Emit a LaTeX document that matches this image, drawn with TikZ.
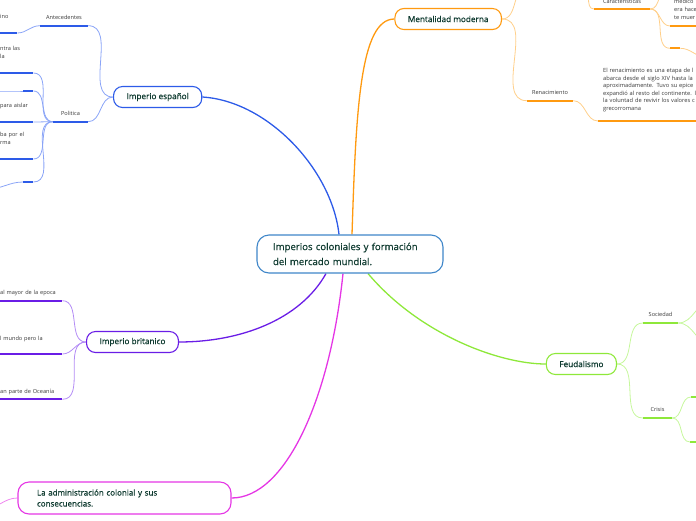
\documentclass[tikz,border=0pt]{standalone}
\usepackage{fontspec}
\setmainfont{Open Sans}
\newfontfamily\topicfont{Open Sans}[FakeBold=0.6]
\usepackage{tikz}
\usetikzlibrary{backgrounds}

\definecolor{espblue}{HTML}{2D5BE8}
\definecolor{esplight}{HTML}{8AA4F7}
\definecolor{mentorange}{HTML}{FF9A10}
\definecolor{mentlight}{HTML}{FFCF8A}
\definecolor{feudgreen}{HTML}{8EE83A}
\definecolor{feudlight}{HTML}{C6F79C}
\definecolor{britpurple}{HTML}{6A1DE6}
\definecolor{britlight}{HTML}{B38CF5}
\definecolor{admmag}{HTML}{E536E5}
\definecolor{centblue}{HTML}{3F86C9}
\definecolor{topictext}{HTML}{0F3B30}
\definecolor{leaftext}{HTML}{383838}

\begin{document}
\begin{tikzpicture}[
  x=1pt, y=-1pt,
  topic/.style={draw=#1, line width=1.1pt, rounded corners=9pt, fill=white,
    inner xsep=13pt, minimum height=21pt, font=\topicfont\fontsize{8.2}{10}\selectfont, text=topictext},
  ul/.style={draw=#1, line width=1.8pt},
  sub/.style={inner xsep=4pt, inner ysep=1.5pt, text depth=4.8pt,
    font=\fontsize{5.6}{8}\selectfont, text=leaftext,
    append after command={(\tikzlastnode.south west) edge[ul=#1] (\tikzlastnode.south east)}},
  cut/.style={sub=#1, anchor=south west, inner xsep=5pt, align=left},
  link/.style={draw=#1, line width=0.8pt},
  main/.style={draw=#1, line width=1.3pt},
  lft/.style={out=180, in=0},
  rgt/.style={out=0, in=180}
]
  \useasboundingbox (0,0) rectangle (696,520);

  % centre
  \node[draw=centblue, line width=1.1pt, rounded corners=12pt, fill=white,
        minimum width=186pt, minimum height=38pt, inner xsep=16pt, text width=154pt,
        align=left, font=\topicfont\fontsize{9.6}{15}\selectfont, text=topictext] (cent) at (350,254)
        {Imperios coloniales y formación\\del mercado mundial.};

  % Imperio espanol (upper left)
  \node[topic=espblue, anchor=west] (espa) at (113,97) {Imperio español};
  \node[sub=espblue, minimum width=48pt, anchor=south] (ante) at (64,25.7) {Antecedentes};
  \node[sub=espblue, minimum width=35pt, anchor=south] (poli) at (70.5,121.7) {Politica};
  \node[cut=espblue, text width=12pt, text depth=12.7pt] (ante1) at (-5,33) {ino};
  \node[cut=espblue, text width=28pt, text depth=20.7pt] (poli1) at (-5,73) {\mbox{ntra las}\\la};
  \node[sub=espblue, minimum width=10pt, anchor=south west] (poli2) at (23,91) {};
  \node[cut=espblue, text width=28pt, text depth=12.7pt] (poli3) at (-5,122) {\mbox{para aislar}};
  \node[cut=espblue, text width=28pt, text depth=20.7pt] (poli4) at (-5,159) {\mbox{ba por el}\\rma};
  \node[sub=espblue, minimum width=10pt, anchor=south west] (poli5) at (23,182) {};
  \coordinate (poli2x) at (-12,91);
  \coordinate (poli5x) at (-12,189);

  % Mentalidad moderna (upper right)
  \node[topic=mentorange, anchor=east] (ment) at (502,19) {Mentalidad moderna};
  \coordinate (menthl) at (528,-14);
  \coordinate (menthr) at (583,-14);
  \node[sub=mentorange, minimum width=56pt, anchor=south, text depth=3.4pt] (carac) at (622,9) {Caracteristicas};
  \coordinate (caracx) at (668,-12);
  \node[sub=mentorange, anchor=south west, text width=40pt, align=left, text depth=21pt] (medi) at (670,26)
        {médico\\era hace\\te muer};
  \node[sub=mentorange, minimum width=10pt, anchor=south west] (cblank) at (670,48.3) {};
  \coordinate (cblankx) at (706,57);
  \node[sub=mentorange, minimum width=46pt, anchor=south] (renac) at (550,100.7) {Renacimiento};
  \node[sub=mentorange, anchor=south west, inner xsep=5pt, text width=115pt, align=left,
        text depth=46.7pt, font=\fontsize{5.7}{7.5}\selectfont] (rtext) at (598,121)
        {El renacimiento es una etapa de l\\abarca desde el siglo XIV hasta la\\aproximadamente. Tuvo su epice\\expandió al resto del continente. l\\la voluntad de revivir los valores c\\grecorromana};

  % Feudalismo (right)
  \node[topic=feudgreen, anchor=east] (feud) at (617,364) {Feudalismo};
  \node[sub=feudgreen, minimum width=35pt, anchor=south] (soci) at (660.5,323) {Sociedad};
  \coordinate (socix1) at (712,301);
  \coordinate (socix2) at (712,345);
  \node[sub=feudgreen, minimum width=29pt, anchor=south] (cris) at (657.5,418) {Crisis};
  \node[sub=feudgreen, minimum width=14pt, anchor=south west] (cris1) at (691,397) {};
  \node[sub=feudgreen, minimum width=14pt, anchor=south west] (cris2) at (690,442) {};

  % Imperio britanico (left)
  \node[topic=britpurple, anchor=west] (brit) at (86,342) {Imperio britanico};
  \node[cut=britpurple, text width=57pt, text depth=4.7pt] (brit1) at (-5,300.7) {\mbox{al mayor de la epoca}};
  \node[cut=britpurple, text width=57pt, text depth=11.7pt] (brit2) at (-5,354) {\mbox{l mundo pero la}};
  \node[cut=britpurple, text width=57pt, text depth=4.3pt] (brit3) at (-5,399.3) {\mbox{an parte de Oceanía}};

  % administracion colonial (bottom)
  \node[draw=admmag, line width=1.1pt, rounded corners=11pt, fill=white,
        minimum width=213pt, minimum height=32pt, inner xsep=19pt, text width=175pt,
        align=left, font=\topicfont\fontsize{8}{11}\selectfont, text=topictext] (adm) at (124.5,498)
        {La administración colonial y sus\\consecuencias.};
  \coordinate (admx) at (-16,509);

  \begin{scope}[on background layer]
    % main branches
    \draw[main=espblue] ([xshift=-11pt]cent.north) .. controls (332,170) and (268,101) .. (espa.east);
    \draw[main=mentorange] ([xshift=2pt]cent.north) .. controls (356,110) and (360,19) .. (ment.west);
    \draw[main=feudgreen] ([xshift=18pt]cent.south) .. controls (420,335) and (500,364) .. (feud.west);
    \draw[main=britpurple] ([xshift=-24pt]cent.south) .. controls (300,320) and (240,342) .. (brit.east);
    \draw[main=admmag] ([xshift=-7pt]cent.south) .. controls (330,400) and (285,498) .. (adm.east);

    % sub branches
    \draw[link=esplight] (espa.west) to[lft] (ante.south east);
    \draw[link=esplight] (espa.west) to[lft] (poli.south east);
    \draw[link=esplight] (ante.south west) to[lft] (ante1.south east);
    \draw[link=esplight] (poli.south west) to[lft] (poli1.south east);
    \draw[link=esplight] (poli.south west) to[lft] (poli2.south east);
    \draw[link=esplight] (poli.south west) to[lft] (poli3.south east);
    \draw[link=esplight] (poli.south west) to[lft] (poli4.south east);
    \draw[link=esplight] (poli.south west) to[lft] (poli5.south east);
    \draw[link=esplight] (poli2.south west) to[lft] (poli2x);
    \draw[link=esplight] (poli5.south west) to[lft] (poli5x);

    \draw[link=mentlight] (ment.east) to[rgt] (menthl);
    \draw[link=mentlight] (ment.east) to[rgt] (renac.south west);
    \draw[link=mentlight] (menthr) to[rgt] (carac.south west);
    \draw[link=mentlight] (carac.south east) to[rgt] (caracx);
    \draw[link=mentlight] (carac.south east) to[rgt] (medi.south west);
    \draw[link=mentlight] (carac.south east) to[rgt] (cblank.south west);
    \draw[link=mentlight] (cblank.south east) to[rgt] (cblankx);
    \draw[link=mentlight] (renac.south east) to[rgt] (rtext.south west);

    \draw[link=feudlight] (feud.east) to[rgt] (soci.south west);
    \draw[link=feudlight] (feud.east) to[rgt] (cris.south west);
    \draw[link=feudlight] (soci.south east) to[rgt] (socix1);
    \draw[link=feudlight] (soci.south east) to[rgt] (socix2);
    \draw[link=feudlight] (cris.south east) to[rgt] (cris1.south west);
    \draw[link=feudlight] (cris.south east) to[rgt] (cris2.south west);

    \draw[link=britlight] (brit.west) to[lft] (brit1.south east);
    \draw[link=britlight] (brit.west) to[lft] (brit2.south east);
    \draw[link=britlight] (brit.west) to[lft] (brit3.south east);

    \draw[link=admmag!60] (adm.west) to[lft] (admx);
  \end{scope}
\end{tikzpicture}
\end{document}
